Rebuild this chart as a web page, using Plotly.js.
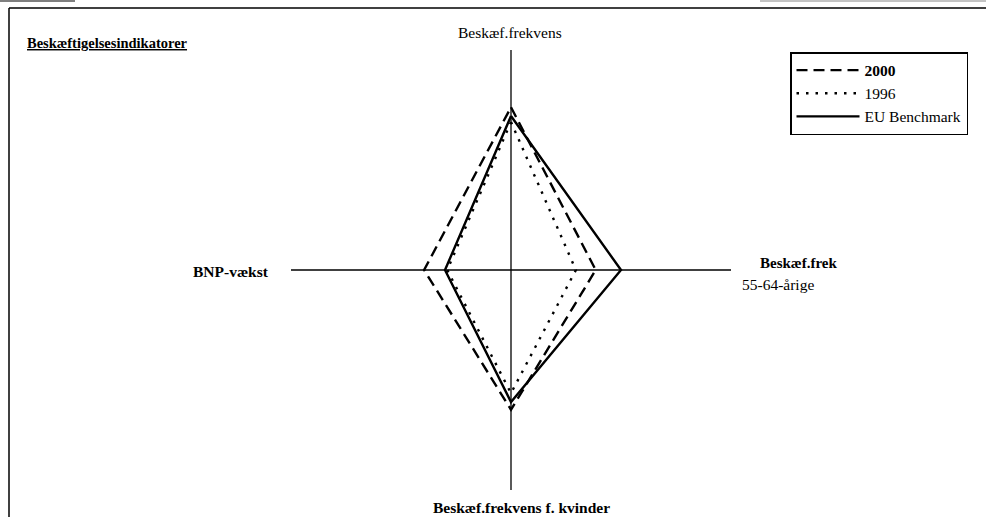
<!DOCTYPE html>
<html>
<head>
<meta charset="utf-8">
<script src="https://cdn.plot.ly/plotly-3.0.1.min.js"></script>
<style>html,body{margin:0;padding:0;background:#fff;}#chart{width:986px;height:517px;}</style>
</head>
<body>
<div id="chart"></div>
<script>
// Axes (spokes) of the indicator chart, clockwise from the top
var categories = ["Beskæf.frekvens", "Beskæf.frek 55-64-årige", "Beskæf.frekvens f. kvinder", "BNP-vækst"];
// Full length of each spoke in the indicator's own unit (% for rates, % growth for GDP)
var axisMax = [100, 100, 100, 10];
// Series values
var values2000 = [74, 38.5, 63.5, 3.95];
var values1996 = [67.3, 29.5, 56, 2.9];
var valuesEU   = [70, 50, 60, 3];
var seriesNames = ["<b>2000</b>", "1996", "EU Benchmark"];

function closed(arr){ return arr.concat([arr[0]]); }
function norm(vals){ return vals.map(function(v,i){ return v / axisMax[i] * 100; }); }

var font = "Liberation Serif, Times New Roman, serif";

var traces = [
  {type:"scatterpolar", mode:"lines", name:seriesNames[0], legendgroup:"a",
   r: closed(norm(values2000)), theta: closed(categories),
   line:{color:"#000", width:2.4, dash:"11px,6px"}},
  {type:"scatterpolar", mode:"lines", name:seriesNames[1], legendgroup:"b",
   r: closed(norm(values1996)), theta: closed(categories),
   line:{color:"#000", width:2.4, dash:"2.5px,7px"}},
  {type:"scatterpolar", mode:"lines", name:seriesNames[2], legendgroup:"c",
   r: closed(norm(valuesEU)), theta: closed(categories),
   line:{color:"#000", width:2.4}}
];

var W = 986, H = 517;
function px(x){ return x / W; }
function py(y){ return 1 - y / H; }

var layout = {
  width: W, height: H,
  margin:{l:0, r:0, t:0, b:0},
  paper_bgcolor:"#fff",
  showlegend:true,
  font:{family:font, color:"#000", size:15},
  polar:{
    domain:{x:[px(291), px(731)], y:[py(490), py(50)]},
    bgcolor:"rgba(0,0,0,0)",
    hole:0,
    angularaxis:{
      type:"category", categoryorder:"array", categoryarray:categories,
      rotation:90, direction:"clockwise",
      showgrid:true, gridcolor:"#000", gridwidth:1.3,
      showline:false, showticklabels:false, ticks:""
    },
    radialaxis:{
      range:[0,100], showgrid:false, showline:false,
      showticklabels:false, ticks:""
    }
  },
  legend:{
    x: px(790), y: py(52), xanchor:"left", yanchor:"top",
    bgcolor:"#fff", bordercolor:"#000", borderwidth:1.5,
    font:{family:font, size:15.5, color:"#000"},
    itemwidth:63, tracegroupgap:4, traceorder:"normal",
    itemclick:false
  },
  annotations:[
    {xref:"paper", yref:"paper", x:px(25), y:py(43), xanchor:"left", yanchor:"middle",
     text:"<b><u>Beskæftigelsesindikatorer</u></b>", showarrow:false, font:{family:font, size:14.5}},
    {xref:"paper", yref:"paper", x:px(510), y:py(33), xanchor:"center", yanchor:"middle",
     text:"Beskæf.frekvens", showarrow:false, font:{family:font, size:15.5}},
    {xref:"paper", yref:"paper", x:px(271), y:py(271), xanchor:"right", yanchor:"middle",
     text:"<b>BNP-vækst</b>", showarrow:false, font:{family:font, size:15.5}},
    {xref:"paper", yref:"paper", x:px(758), y:py(263), xanchor:"left", yanchor:"middle",
     text:"<b>Beskæf.frek</b>", showarrow:false, font:{family:font, size:15}},
    {xref:"paper", yref:"paper", x:px(740), y:py(284), xanchor:"left", yanchor:"middle",
     text:"55-64-årige", showarrow:false, font:{family:font, size:15.5}},
    {xref:"paper", yref:"paper", x:px(521), y:py(508), xanchor:"center", yanchor:"middle",
     text:"<b>Beskæf.frekvens f. kvinder</b>", showarrow:false, font:{family:font, size:15.5}}
  ],
  shapes:[
    {type:"line", xref:"paper", yref:"paper", x0:px(9), x1:1, y0:py(8), y1:py(8),
     line:{color:"#000", width:1.5}},
    {type:"line", xref:"paper", yref:"paper", x0:px(9), x1:px(9), y0:py(8), y1:0,
     line:{color:"#000", width:1.5}},
    {type:"line", xref:"paper", yref:"paper", x0:0, x1:px(75), y0:py(1), y1:py(1),
     line:{color:"#555", width:1.5}},
    {type:"line", xref:"paper", yref:"paper", x0:px(760), x1:1, y0:py(1), y1:py(1),
     line:{color:"#888", width:1}}
  ]
};

Plotly.newPlot("chart", traces, layout, {staticPlot:true, displayModeBar:false});
</script>
</body>
</html>
